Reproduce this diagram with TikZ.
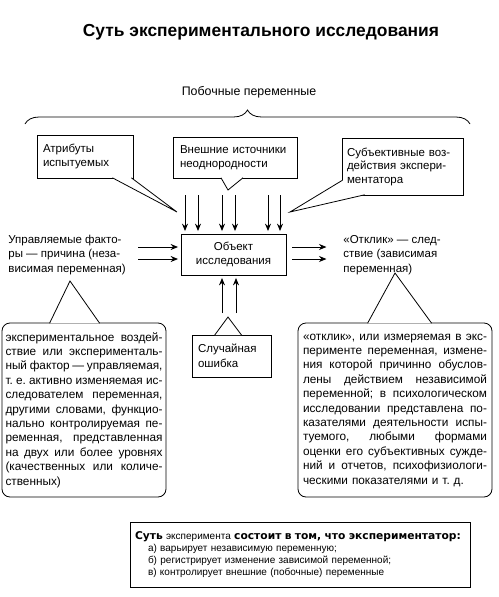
\documentclass[tikz,border=0pt]{standalone}
\usepackage{fontspec}
\setmainfont{Liberation Sans}
\newfontfamily\widebold{DejaVu Sans}[UprightFont = *-Bold]
\usetikzlibrary{arrows.meta, calc, decorations.pathreplacing}
\frenchspacing

% one justified line of a note
\newcommand{\fillline}[1]{\makebox[\hsize][s]{\spaceskip=0pt\xspaceskip=0pt #1}}

\tikzset{
	exppicture/.style = {
		x = 1pt,
		y = -1pt,
		line width = 0.8pt,
		font = \fontsize{11.5}{13.5}\selectfont,
		arrow/.style = {
			draw,
			-{Stealth[length = 7.5pt, width = 6pt]},
			line width = 1pt,
			shorten >= 2.5pt,
		}
	},
	callbox/.style = {
		draw,
		align = left,
		inner ysep = 0pt
	},
	notebox/.style = {
		draw,
		rounded corners = 8pt,
		align = left,
		inner ysep = 0pt,
		minimum height = 174pt,
		font = \fontsize{11.8}{14.4}\selectfont
	},
	sidetext/.style = {
		anchor = west,
		align = left,
		inner sep = 0pt,
		font = \fontsize{11.5}{14.5}\selectfont
	},
	pointer/.style = {
		draw,
		fill = white
	}
}

\begin{document}
\begin{tikzpicture}[exppicture]
	\useasboundingbox (0,0) rectangle (498,597);

	\node[font = \fontsize{17.4}{20}\selectfont\bfseries] (title) at (261,32) {Суть экспериментального исследования};
	\node[font = \fontsize{12.4}{14}\selectfont] (side) at (249,92) {Побочные переменные};

	% brace over the outside sources
	\coordinate (brace-l) at (25,124);
	\coordinate (brace-r) at (470,124);
	\draw[decorate, decoration = {brace, amplitude = 14pt}] (brace-l) -- (brace-r);

	\node[callbox, text width = 84pt, inner xsep = 6pt, minimum height = 43pt] (attr) at (85,156.5) {Атрибуты\\испытуемых};
	\node[callbox, text width = 110pt, inner xsep = 7pt, minimum height = 41pt] (ext) at (235,157.5) {Внешние источники\\неоднородности};
	\node[callbox, text width = 111pt, inner xsep = 5pt, minimum height = 57pt] (subj) at (402.5,166.5) {Субъективные воз-\\действия экспери-\\ментатора};

	\node[draw, align = center, minimum width = 105pt, minimum height = 41pt, inner sep = 0pt] (obj) at (233.5,254.5) {Объект\\исследования};

	\node[sidetext] (cause) at (8,255) {Управляемые факто-\\ры — причина (неза-\\висимая переменная)};
	\node[sidetext] (effect) at (343,255) {«Отклик» — след-\\ствие (зависимая\\переменная)};

	\node[callbox, text width = 67pt, inner xsep = 6pt, minimum height = 42pt, font = \fontsize{11.5}{14.5}\selectfont] (err) at (231.5,356) {Случайная\\ошибка};

	\node[notebox, text width = 157pt, inner xsep = 3.5pt] (fact) at (84,410) {%
		\fillline{экспериментальное воздей-}\\
		\fillline{ствие или эксперименталь-}\\
		\fillline{ный фактор — управляемая,}\\
		\fillline{т. е. активно изменяемая ис-}\\
		\fillline{следователем переменная,}\\
		\fillline{другими словами, функцио-}\\
		\fillline{нально контролируемая пе-}\\
		\fillline{ременная, представленная}\\
		\fillline{на двух или более уровнях}\\
		\fillline{(качественных или количе-}\\
		ственных)};
	\node[notebox, text width = 184pt, inner xsep = 5pt] (resp) at (395,410) {%
		\fillline{«отклик», или измеряемая в экс-}\\
		\fillline{перименте переменная, измене-}\\
		\fillline{ния которой причинно обуслов-}\\
		\fillline{лены действием независимой}\\
		\fillline{переменной; в психологическом}\\
		\fillline{исследовании представлена по-}\\
		\fillline{казателями деятельности испы-}\\
		\fillline{туемого, любыми формами}\\
		\fillline{оценки его субъективных сужде-}\\
		\fillline{ний и отчетов, психофизиологи-}\\
		ческими показателями и т. д.};

	\node[draw, align = left, text width = 330pt, inner xsep = 5pt, inner ysep = 0pt, minimum height = 65pt, font = \fontsize{10}{12}\selectfont] (summary) at (300,554.5) {{\fontsize{10.7}{12}\selectfont\widebold Суть} эксперимента {\fontsize{10.7}{12}\selectfont\widebold состоит в том, что экспериментатор:}\\\hspace*{13pt}а) варьирует независимую переменную;\\\hspace*{13pt}б) регистрирует изменение зависимой переменной;\\\hspace*{13pt}в) контролирует внешние (побочные) переменные};

	% callout pointers
	\coordinate (attr-tip) at (177,212);
	\coordinate (ext-tip) at (228,190);
	\coordinate (subj-tip) at (290,212);
	\coordinate (err-tip) at (228,317);
	\coordinate (fact-tip) at (70,281);
	\coordinate (resp-tip) at (395,273);

	\draw[pointer] ($(attr.south east)+(-21,-0.6)$) -- (attr-tip) -- ($(attr.south east)+(-2,-0.6)$);
	\draw[pointer] ($(ext.south)+(-14,-0.6)$) -- (ext-tip) -- ($(ext.south)+(8,-0.6)$);
	\draw[pointer] ($(subj.south west)+(0.6,-15)$) -- (subj-tip) -- ($(subj.south west)+(23,-0.6)$);
	\draw[pointer] ($(err.north west)+(23,0.6)$) -- (err-tip) -- ($(err.north west)+(50,0.6)$);
	\draw[pointer] ($(fact.north west)+(48,0.6)$) -- (fact-tip) -- ($(fact.north west)+(98,0.6)$);
	\draw[pointer] ($(resp.north west)+(70,0.6)$) -- (resp-tip) -- ($(resp.north west)+(134,0.6)$);

	% arrow ends
	\foreach \x in {185,198,222,235,268,280}
		\coordinate (src-\x) at (\x,195);
	\foreach \y in {247,259} {
		\coordinate (in-\y) at (138,\y);
		\coordinate (out-\y) at (329,\y);
	}
	\foreach \x in {222,236}
		\coordinate (noise-\x) at (\x,313);

	\begin{scope}[every path/.style = arrow]
		\foreach \x in {185,198,222,235,268,280}
			\path (src-\x) -- (src-\x |- obj.north);
		\foreach \y in {247,259} {
			\path (in-\y) -- (in-\y -| obj.west);
			\path[shorten <= 6pt] (out-\y -| obj.east) -- (out-\y);
		}
		\foreach \x in {222,236}
			\path (noise-\x) -- (noise-\x |- obj.south);
	\end{scope}
\end{tikzpicture}
\end{document}
